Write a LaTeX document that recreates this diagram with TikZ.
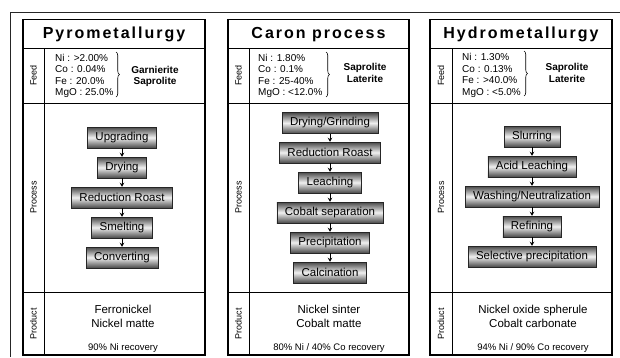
\documentclass[tikz,border=0pt]{standalone}
\usepackage{fontspec}
\setmainfont{Liberation Sans}
\newfontfamily\titlefont[LetterSpace=12.5]{Liberation Sans}
\usetikzlibrary{arrows.meta,decorations.pathreplacing}
\begin{document}
\begin{tikzpicture}[x=1pt,y=-1pt,
  frameline/.style={line width=0.9pt, black!85},
  panelline/.style={line width=1.3pt},
  sepline/.style={line width=0.6pt},
  stepbox/.style={draw=black!85, line width=0.5pt, top color=black!72, bottom color=black!72, middle color=black!6,
    minimum height=21pt, inner xsep=8pt, inner ysep=0pt, font=\fontsize{11.5}{12}\selectfont},
  flow/.style={-{Stealth[length=4pt,width=4.5pt]}, line width=0.9pt},
  rowlabel/.style={rotate=90, font=\fontsize{9}{10}\selectfont, inner sep=0pt},
  title/.style={anchor=base, font=\titlefont\bfseries\fontsize{16}{18}\selectfont, inner sep=0pt},
  feedlist/.style={anchor=west, align=left, inner sep=0pt, font=\fontsize{10}{11.5}\selectfont},
  ore/.style={align=center, inner sep=0pt, font=\bfseries\fontsize{10}{11.5}\selectfont},
  product/.style={align=center, inner sep=0pt, font=\fontsize{11.5}{14}\selectfont},
  recovery/.style={inner sep=0pt, font=\fontsize{9.5}{11}\selectfont},
  feedbrace/.style={decorate, decoration={brace, amplitude=3.5pt}, line width=0.6pt}
]
\useasboundingbox (0,0) rectangle (620,357);
\fill[white] (0,0) rectangle (620,357);

% page frame
\draw[frameline] (10.5,357) -- (10.5,12.5) -- (620,12.5);

% ---------- panel outlines ----------
\foreach \xa/\xd/\xb in {23/44/205, 228/249/409, 430/452/612}{
  \draw[sepline] (\xa,48) -- (\xb,48);
  \draw[sepline] (\xa,103) -- (\xb,103);
  \draw[sepline] (\xa,292) -- (\xb,292);
  \draw[sepline] (\xd,48) -- (\xd,355);
  \draw[panelline] (\xa,19.5) rectangle (\xb,355);
}

% ---------- titles ----------
\node[title] (t1) at (114,38) {Pyrometallurgy};
\node[title] (t2) at (318.5,38) {Caron process};
\node[title] (t3) at (521,38) {Hydrometallurgy};

% ---------- row labels ----------
\node[rowlabel] (f1) at (33.5,75.5) {Feed};
\node[rowlabel] (p1) at (33.5,197.5) {Process};
\node[rowlabel] (r1) at (33.5,323.5) {Product};
\node[rowlabel] (f2) at (238.5,75.5) {Feed};
\node[rowlabel] (p2) at (238.5,197.5) {Process};
\node[rowlabel] (r2) at (238.5,323.5) {Product};
\node[rowlabel] (f3) at (441,75.5) {Feed};
\node[rowlabel] (p3) at (441,197.5) {Process};
\node[rowlabel] (r3) at (441,323.5) {Product};

% ---------- feed ----------
\node[feedlist] (l1) at (55,76) {Ni : >2.00\%\\Co : 0.04\%\\Fe : 20.0\%\\MgO : 25.0\%};
\coordinate (b1t) at (116,52);
\coordinate (b1b) at (116,97);
\draw[feedbrace] (b1t) -- (b1b);
\node[ore] (o1) at (155,76.5) {Garnierite\\Saprolite};

\node[feedlist] (l2) at (258,76) {Ni : 1.80\%\\Co : 0.1\%\\Fe : 25-40\%\\MgO : <12.0\%};
\coordinate (b2t) at (326,52);
\coordinate (b2b) at (326,97);
\draw[feedbrace] (b2t) -- (b2b);
\node[ore] (o2) at (365,73) {Saprolite\\Laterite};

\node[feedlist] (l3) at (462,75.5) {Ni : 1.30\%\\Co : 0.13\%\\Fe : >40.0\%\\MgO : <5.0\%};
\coordinate (b3t) at (524,51);
\coordinate (b3b) at (524,96);
\draw[feedbrace] (b3t) -- (b3b);
\node[ore] (o3) at (567,73) {Saprolite\\Laterite};

% ---------- processes ----------
\node[stepbox] (a1) at (122,137.5) {Upgrading};
\node[stepbox] (a2) at (122,167.5) {Drying};
\node[stepbox] (a3) at (122,197.5) {Reduction Roast};
\node[stepbox] (a4) at (122,227.5) {Smelting};
\node[stepbox] (a5) at (122,257.5) {Converting};
\draw[flow] (a1) -- (a2);
\draw[flow] (a2) -- (a3);
\draw[flow] (a3) -- (a4);
\draw[flow] (a4) -- (a5);

\node[stepbox] (c1) at (330,123) {Drying/Grinding};
\node[stepbox] (c2) at (330,152.5) {Reduction Roast};
\node[stepbox] (c3) at (330,182.5) {Leaching};
\node[stepbox] (c4) at (330,212.5) {Cobalt separation};
\node[stepbox] (c5) at (330,242.5) {Precipitation};
\node[stepbox] (c6) at (330,272.5) {Calcination};
\draw[flow] (c1) -- (c2);
\draw[flow] (c2) -- (c3);
\draw[flow] (c3) -- (c4);
\draw[flow] (c4) -- (c5);
\draw[flow] (c5) -- (c6);

\node[stepbox] (h1) at (532,136.5) {Slurring};
\node[stepbox] (h2) at (532,166.5) {Acid Leaching};
\node[stepbox] (h3) at (532,196.5) {Washing/Neutralization};
\node[stepbox] (h4) at (532,226.5) {Refining};
\node[stepbox] (h5) at (532,256.5) {Selective precipitation};
\draw[flow] (h1) -- (h2);
\draw[flow] (h2) -- (h3);
\draw[flow] (h3) -- (h4);
\draw[flow] (h4) -- (h5);

% ---------- products ----------
\node[product] (pr1) at (123,316) {Ferronickel\\Nickel matte};
\node[recovery] (rc1) at (123,348) {90\% Ni recovery};
\node[product] (pr2) at (329,316) {Nickel sinter\\Cobalt matte};
\node[recovery] (rc2) at (329,348) {80\% Ni / 40\% Co recovery};
\node[product] (pr3) at (533,316) {Nickel oxide spherule\\Cobalt carbonate};
\node[recovery] (rc3) at (533,348) {94\% Ni / 90\% Co recovery};
\end{tikzpicture}
\end{document}
